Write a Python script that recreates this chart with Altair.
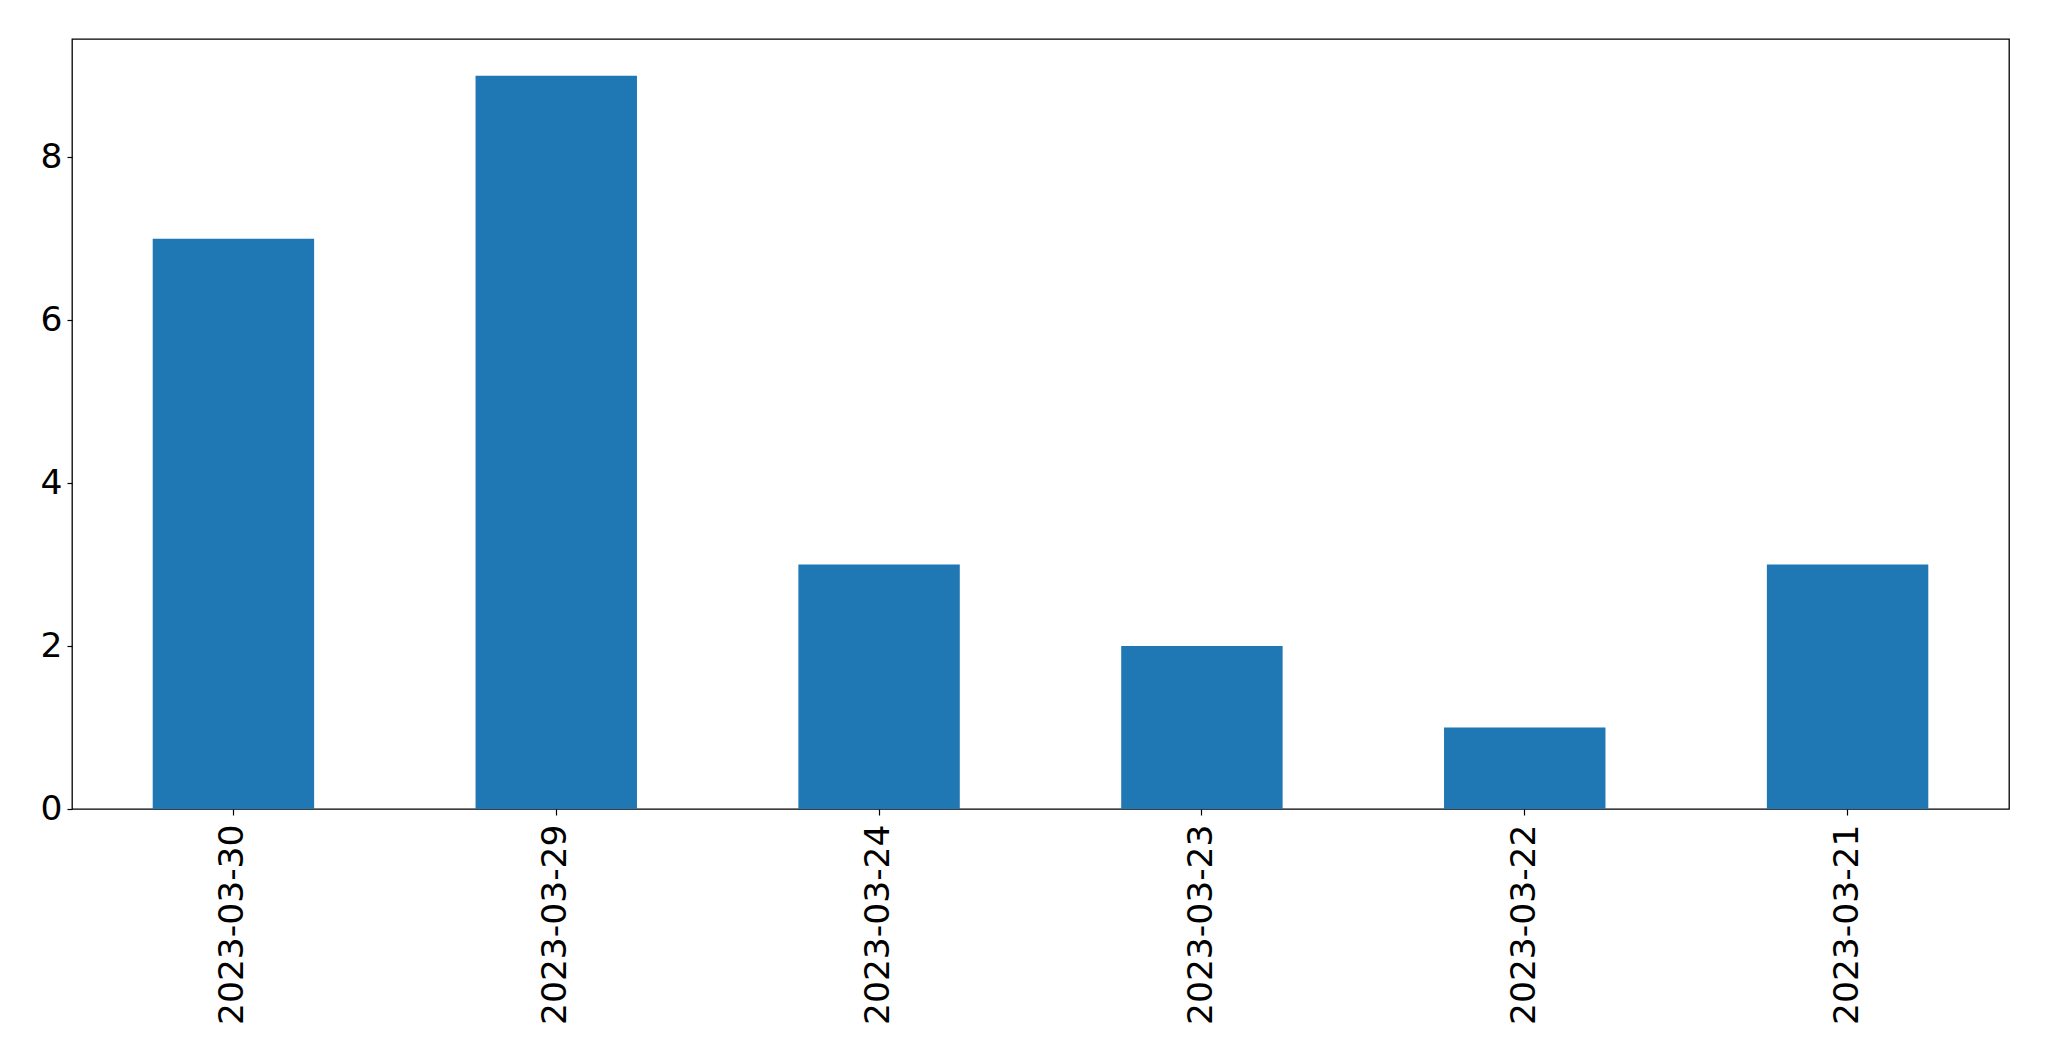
import altair as alt
import pandas as pd

dates = ["2023-03-30", "2023-03-29", "2023-03-24", "2023-03-23", "2023-03-22", "2023-03-21"]
counts = [7, 9, 3, 2, 1, 3]

df = pd.DataFrame({"date": dates, "count": counts})

chart = alt.Chart(df).mark_bar(color="#1f77b4").encode(
    x=alt.X(
        "date:N",
        sort=None,
        title=None,
        scale=alt.Scale(paddingInner=0.5, paddingOuter=0.25),
        axis=alt.Axis(
            labelAngle=270,
            labelPadding=9,
            tickSize=6,
            labelLimit=400,
        ),
    ),
    y=alt.Y(
        "count:Q",
        title=None,
        scale=alt.Scale(domain=[0, 9.45], nice=False, zero=True),
        axis=alt.Axis(
            values=[0, 2, 4, 6, 8],
            tickSize=5,
            labelPadding=5,
        ),
    ),
).properties(
    width=1937,
    height=770,
    autosize=alt.AutoSizeParams(type="none"),
    padding={"left": 64, "top": 31, "right": 24, "bottom": 230},
    background="white",
).configure_axis(
    labelFont="DejaVu Sans",
    labelFontSize=34.5,
    labelColor="black",
    tickColor="black",
    tickWidth=1.2,
    domain=False,
    grid=False,
).configure_view(
    stroke="black",
    strokeWidth=1.3,
)

chart.save("out.html", embed_options={"renderer": "svg", "actions": False})
